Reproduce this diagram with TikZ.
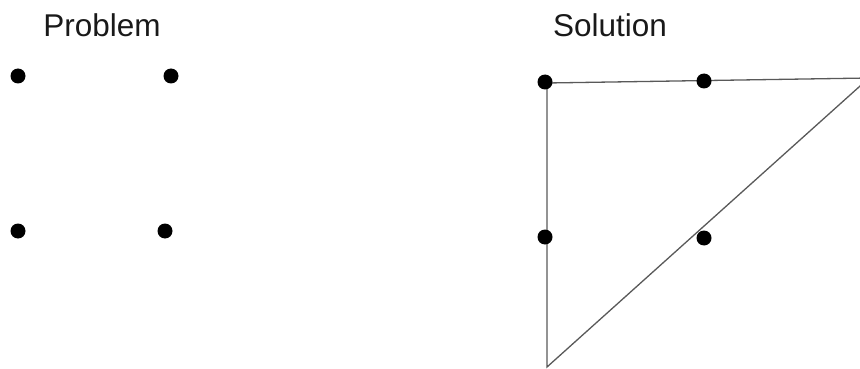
\documentclass[tikz,border=0pt]{standalone}
\usepackage{fontspec}
\setmainfont{Liberation Sans}
\begin{document}
\begin{tikzpicture}[x=1pt,y=-1pt,
  dot/.style={circle,fill=black,inner sep=0pt,minimum size=15pt},
  ttl/.style={anchor=base,font=\fontsize{31.5}{36}\selectfont,text=black!90,inner sep=0pt},
  edge/.style={draw=black!65,line width=1.3pt,line join=miter}]
\useasboundingbox (0,0) rectangle (860,369);
\clip (0,0) rectangle (860,369);
% titles
\node[ttl] (tp) at (102,37) {Problem};
\node[ttl] (ts) at (610,37) {Solution};
% problem dots
\node[dot] (p1) at (18,76) {};
\node[dot] (p2) at (171,76) {};
\node[dot] (p3) at (18,231) {};
\node[dot] (p4) at (165,231) {};
% solution triangle
\coordinate (a) at (547,83);
\coordinate (b) at (869,78);
\coordinate (c) at (547,367);
\draw[edge] (a) -- (b) -- (c) -- cycle;
% solution dots
\node[dot] (s1) at (545,82) {};
\node[dot] (s2) at (704,81) {};
\node[dot] (s3) at (545,237) {};
\node[dot] (s4) at (704,238) {};
\end{tikzpicture}
\end{document}
